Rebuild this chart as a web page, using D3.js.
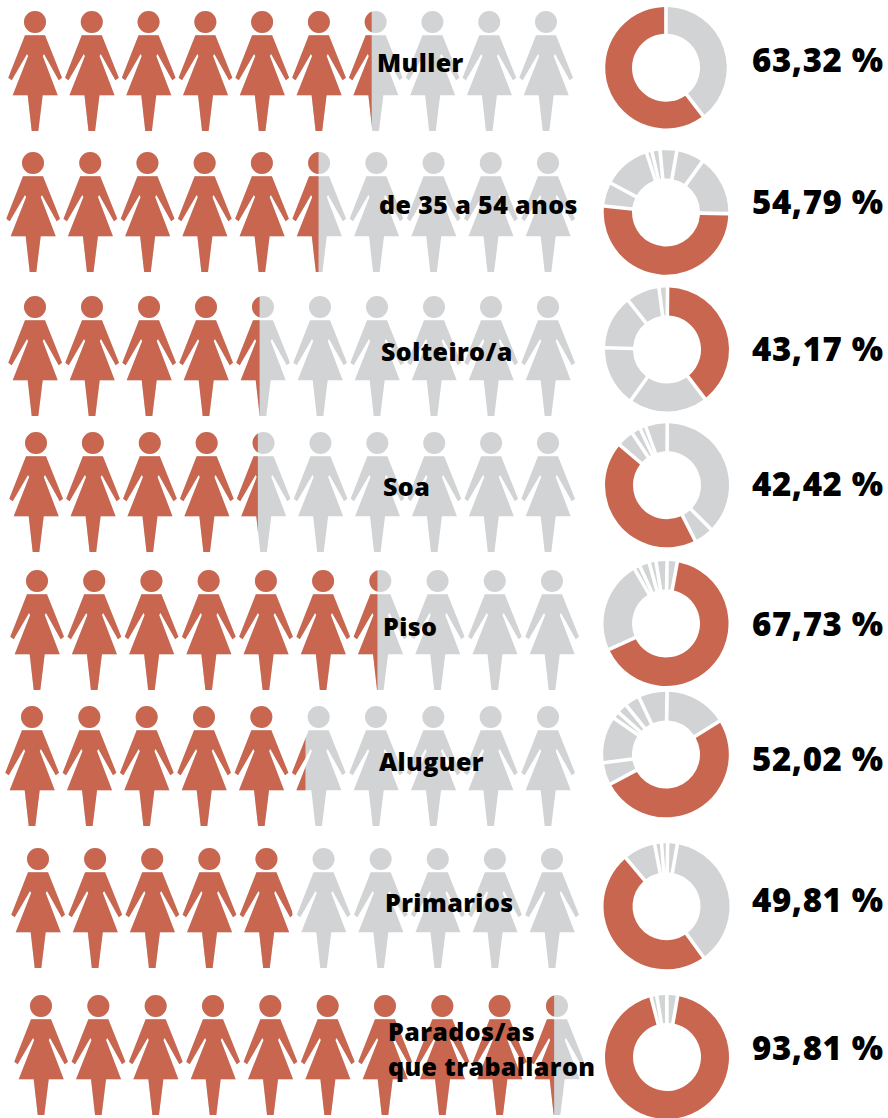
<!DOCTYPE html>
<html>
<head>
<meta charset="utf-8">
<script src="https://cdn.jsdelivr.net/npm/d3@7"></script>
<style>
  html, body { margin: 0; padding: 0; background: #fff; }
  svg { display: block; }
  text { font-family: 'Open Sans', sans-serif; font-weight: 800; fill: #000; }
</style>
</head>
<body>
<svg></svg>
<script>
const categories = ['Muller', 'de 35 a 54 anos', 'Solteiro/a', 'Soa', 'Piso', 'Aluguer', 'Primarios', 'Parados/as|que traballaron'];
const percentLabels = ['63,32 %', '54,79 %', '43,17 %', '42,42 %', '67,73 %', '52,02 %', '49,81 %', '93,81 %'];

// how many of the ten figures are painted, as drawn in the picture
const figuresPainted = [6.43, 5.49, 4.44, 4.40, 6.45, 5.27, 4.95, 9.45];

// ring slices in percent, clockwise, the first one is the coloured one
const sliceValues = [
  [60.4, 39.6],
  [51.4, 6.1, 12.2, 1.4, 2.1, 4.3, 7.1, 15.4],
  [39.4, 20.3, 15.6, 13.9, 8.6, 2.2],
  [43.75, 4.39, 2.31, 1.5, 5.61, 37.44, 5],
  [65.3, 23.47, 1.53, 2.5, 1.75, 2.83, 2.61],
  [51.11, 5.69, 11.81, 1.81, 2.64, 3.81, 7.31, 15.83],
  [48.89, 8.1, 1.76, 1.53, 2.47, 37.25],
  [93.08, 1.5, 2.6, 2.8],
];
// where the coloured slice starts, degrees clockwise from the top
const sliceStart = [142.5, 91, 0.5, 153, 10.4, 58, 144, 9.9];

const width = 888;
const height = 1118;
const red = '#c9664f';
const grey = '#d1d3d4';
const figureCount = 10;

const svg = d3.select('svg').attr('width', width).attr('height', height);

// row layout, irregular in the original
const headY = d3.scaleOrdinal().domain(categories).range([22, 163, 307, 443, 581, 717, 859, 1006]);
const firstHeadX = d3.scaleOrdinal().domain(categories).range([35, 33, 35, 36, 37, 32, 38, 41]);
const lastHeadX = d3.scaleOrdinal().domain(categories).range([546, 548, 548, 548, 552, 548, 552, 557]);
const ringY = d3.scaleOrdinal().domain(categories).range([67.7, 212.5, 349.5, 485.3, 623.5, 754.5, 906.3, 1057]);
const ringX = d3.scaleOrdinal().domain(categories).range([666, 666, 667, 667, 666, 666, 666.5, 667]);
const ringR = d3.scaleOrdinal().domain(categories).range([60.8, 62.3, 62, 62, 62.5, 62.8, 63, 62]);
const labelX = d3.scaleOrdinal().domain(categories).range([377, 379, 381, 383, 383, 379, 385, 388]);
const textY = d3.scaleOrdinal().domain(categories).range([72, 214, 361, 496, 636, 771, 912, 1041]);
const percentY = d3.scaleOrdinal().domain(categories).range([72, 214, 361, 496, 636, 771, 912, 1060]);

const figurePath = () => {
  const path = d3.path();
  path.moveTo(11, 0);
  path.arc(0, 0, 11, 0, 2 * Math.PI);
  path.closePath();
  const body = [
    [-10, 13.3], [-26.7, 55.7], [-23.3, 58.3], [-8, 32], [-6.8, 34], [-22.3, 73.3], [-7.3, 73.3], [-3.3, 109],
    [3.3, 109], [7.7, 73.3], [22.7, 73.3], [7.7, 34], [9, 32], [23.7, 58.3], [27, 55.7], [10, 13.3],
  ];
  return path.toString() + d3.line()(body) + 'Z';
};
const figureD = figurePath();

const createFigures = () => {
  const defs = svg.append('defs');
  categories.forEach((category, row) => {
    const xScale = d3.scaleLinear().domain([0, figureCount - 1]).range([firstHeadX(category), lastHeadX(category)]);
    const step = xScale(1) - xScale(0);
    const fillScale = d3.scaleLinear().domain([0, figureCount]).range([xScale(0) - step / 2, xScale(figureCount - 1) + step / 2]);

    defs.append('clipPath').attr('id', 'fill-' + row)
      .append('rect')
      .attr('x', 0)
      .attr('y', headY(category) - 20)
      .attr('width', fillScale(figuresPainted[row]))
      .attr('height', 150);

    const g = svg.append('g').attr('class', 'row');
    [grey, red].forEach((color, layer) => {
      g.append('g')
        .attr('clip-path', layer ? 'url(#fill-' + row + ')' : null)
        .selectAll('path')
        .data(d3.range(figureCount))
        .enter()
        .append('path')
        .attr('d', figureD)
        .attr('fill', color)
        .attr('transform', (d) => 'translate(' + xScale(d) + ',' + headY(category) + ')');
    });
  });
};

const createRings = () => {
  categories.forEach((category, row) => {
    const arc = d3.arc().innerRadius(34).outerRadius(ringR(category)).padRadius(100).padAngle(0.036);
    const start = (sliceStart[row] * Math.PI) / 180;
    const pie = d3.pie().sort(null).startAngle(start).endAngle(start + 2 * Math.PI);
    svg.append('g')
      .attr('transform', 'translate(' + ringX(category) + ',' + ringY(category) + ')')
      .selectAll('path')
      .data(pie(sliceValues[row]))
      .enter()
      .append('path')
      .attr('d', arc)
      .attr('fill', (d, i) => (i === 0 ? red : grey));
  });
};

const createLabels = () => {
  categories.forEach((category, row) => {
    category.split('|').forEach((line, i) => {
      svg.append('text')
        .attr('x', labelX(category))
        .attr('y', textY(category) + i * 35)
        .attr('font-size', 25)
        .attr('letter-spacing', 0.4)
        .text(line);
    });
    svg.append('text')
      .attr('x', 752)
      .attr('y', percentY(category))
      .attr('font-size', 33)
      .attr('letter-spacing', 0.6)
      .text(percentLabels[row]);
  });
};

createFigures();
createRings();
createLabels();
</script>
</body>
</html>
